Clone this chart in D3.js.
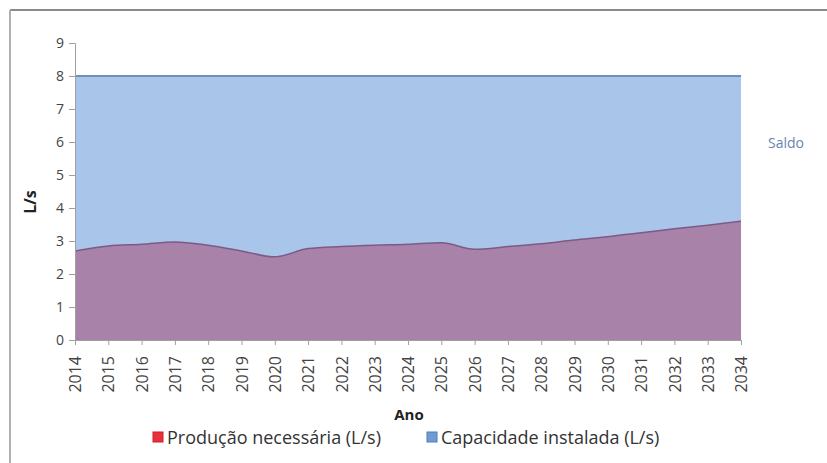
<!DOCTYPE html>
<html lang="pt">
<head>
    <meta charset="UTF-8">
    <title>Produção x Capacidade</title>
    <script src="https://cdn.jsdelivr.net/npm/d3@7"></script>
    <style>
        body { margin: 0; background: #fff; }
        text { font-family: "Open Sans", "Noto Sans", sans-serif; }
    </style>
</head>
<body>
<svg width="827" height="463"></svg>
<script>
    // dados
    var anos = [2014,2015,2016,2017,2018,2019,2020,2021,2022,2023,2024,
                2025,2026,2027,2028,2029,2030,2031,2032,2033,2034];
    var producao = [2.7,2.85,2.9,2.97,2.87,2.7,2.52,2.77,2.83,2.87,2.9,
                    2.95,2.75,2.83,2.92,3.03,3.13,3.25,3.37,3.48,3.6];
    var capacidade = [8,8,8,8,8,8,8,8,8,8,8,8,8,8,8,8,8,8,8,8,8];
    var yTicks = [0,1,2,3,4,5,6,7,8,9];
    var legendas = ['Produção necessária (L/s)', 'Capacidade instalada (L/s)'];

    var svg = d3.select('svg');

    // moldura
    svg.append('line').attr('x1',10).attr('x2',827).attr('y1',10).attr('y2',10)
        .attr('stroke','#8a8a8a').attr('stroke-width',2);
    svg.append('line').attr('x1',10).attr('x2',10).attr('y1',10).attr('y2',463)
        .attr('stroke','#b0b0b0').attr('stroke-width',2);

    var x = d3.scalePoint().domain(anos).range([75, 741]);
    var y = d3.scaleLinear().domain([0, 9]).range([340, 43]);

    var areaCap = d3.area()
        .x(function(d,i){ return x(anos[i]) })
        .y0(y(0))
        .y1(function(d){ return y(d) });

    svg.append('path').datum(capacidade)
        .attr('d', areaCap)
        .attr('fill','#a9c5ea');
    svg.append('path').datum(capacidade)
        .attr('d', d3.line().x(function(d,i){ return x(anos[i]) }).y(function(d){ return y(d) }))
        .attr('fill','none').attr('stroke','#6f8fbf').attr('stroke-width',2);

    svg.append('path').datum(producao)
        .attr('d', areaCap.curve(d3.curveMonotoneX))
        .attr('fill','#a882a8');
    svg.append('path').datum(producao)
        .attr('d', d3.line().curve(d3.curveMonotoneX)
            .x(function(d,i){ return x(anos[i]) }).y(function(d){ return y(d) }))
        .attr('fill','none').attr('stroke','#7d5a86').attr('stroke-width',1.5);

    // eixo y
    var yAxis = svg.append('g').attr('transform','translate(75,0)')
        .call(d3.axisLeft(y).tickValues(yTicks).tickSize(6).tickPadding(5));
    yAxis.select('.domain').attr('stroke','#a0a0a0');
    yAxis.selectAll('.tick line').attr('stroke','#a0a0a0');
    yAxis.selectAll('.tick text').attr('fill','#444').style('font-size','14px');

    // eixo x
    var xAxis = svg.append('g').attr('transform','translate(0,340)')
        .call(d3.axisBottom(x).tickSize(5).tickFormat(d3.format('d')));
    xAxis.select('.domain').attr('stroke','#a0a0a0');
    xAxis.selectAll('.tick line').attr('stroke','#a0a0a0');
    xAxis.selectAll('.tick text')
        .attr('fill','#444').style('font-size','16px')
        .attr('transform','rotate(-90)')
        .attr('text-anchor','end')
        .attr('x',-16).attr('y',0).attr('dy','0.35em');

    // títulos
    svg.append('text').attr('x',409).attr('y',420).attr('text-anchor','middle')
        .style('font-size','15px').style('font-weight','bold').attr('fill','#222')
        .text('Ano');
    svg.append('text').attr('transform','translate(36,202) rotate(-90)')
        .attr('text-anchor','middle')
        .style('font-size','16px').style('font-weight','bold').attr('fill','#222')
        .text('L/s');
    svg.append('text').attr('x',768).attr('y',148)
        .style('font-size','14px').attr('fill','#6a84ad')
        .text('Saldo');

    // legenda
    var cores = ['#e8313b', '#6f9bd3'];
    var legX = [153, 427];
    legendas.forEach(function(t,i){
        svg.append('rect').attr('x',legX[i]).attr('y',432).attr('width',10).attr('height',10)
            .attr('fill',cores[i]).attr('stroke', i==0 ? '#c22' : '#4d7fc0');
        svg.append('text').attr('x',legX[i]+14).attr('y',444)
            .style('font-size','18px').attr('fill','#333')
            .text(t);
    });
</script>
</body>
</html>
